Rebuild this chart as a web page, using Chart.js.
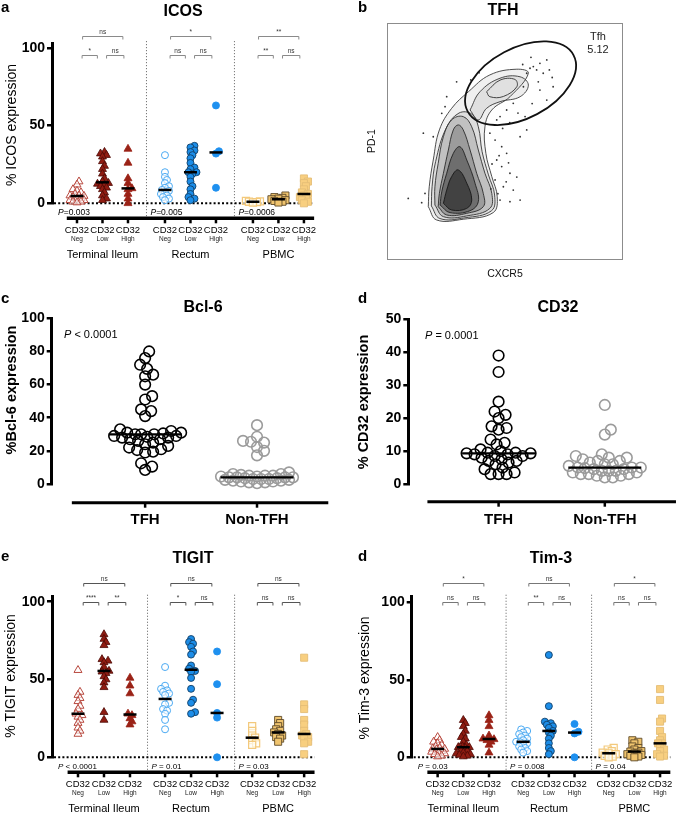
<!DOCTYPE html>
<html><head><meta charset="utf-8">
<script src="https://cdn.jsdelivr.net/npm/chart.js@4/dist/chart.umd.min.js"></script>
<style>
html,body{margin:0;padding:0;background:#fff;}
#wrap{position:relative;width:685px;height:813px;overflow:hidden;background:#fff;}
canvas{position:absolute;display:block;}
</style></head>
<body><div id="wrap">
<canvas id="ca" width="340" height="270" style="left:0;top:0"></canvas>
<canvas id="cb" width="345" height="290" style="left:340px;top:0"></canvas>
<canvas id="cc" width="340" height="240" style="left:0;top:290px"></canvas>
<canvas id="cd" width="345" height="240" style="left:340px;top:290px"></canvas>
<canvas id="ce" width="340" height="283" style="left:0;top:530px"></canvas>
<canvas id="cf" width="345" height="283" style="left:340px;top:530px"></canvas>
</div>
<script>
const FONT = "'Liberation Sans', Arial, Helvetica, sans-serif";
Chart.defaults.font.family = FONT;
Chart.defaults.animation = false;
Chart.defaults.events = [];
Chart.defaults.plugins.legend.display = false;
Chart.defaults.plugins.tooltip.enabled = false;

// ================= DATA =================
const tissueGroups = ['Terminal Ileum', 'Rectum', 'PBMC'];
const cd32Levels = ['Neg', 'Low', 'High'];
const pctTicks = [0, 50, 100];

// ICOS
const icosTINeg = [14, 12, 9, 8, 7, 6, 5, 5, 4.7, 4, 3, 3, 2, 2, 1, 1, 0.5];
const icosTILow = [33, 32, 31, 30, 27, 24, 22, 19, 16, 14, 13, 12.5, 12, 11, 10, 9, 7, 5, 3, 2];
const icosTIHigh = [35, 26, 16, 13, 9.6, 9, 6, 3, 0];
const icosRecNeg = [31, 20, 17, 15, 13, 11, 10, 8.6, 8, 7, 6, 5, 4, 3, 2];
const icosRecLow = [37, 36, 34, 33, 31, 29, 26, 23, 22, 20, 20, 19, 17, 14, 11, 9, 6, 4, 3, 2];
const icosRecHigh = [63, 33.5, 32, 10];
const icosPbmcNeg = [1.5, 1.2, 1, 0.8, 0.5];
const icosPbmcLow = [5, 4, 3.5, 3, 2.6, 2, 1.5, 1, 0.5];
const icosPbmcHigh = [16, 14, 13, 11, 9, 7, 6, 5, 4, 3, 2, 1, 0];
const icosSig = [['ns', '*', 'ns'], ['*', 'ns', 'ns'], ['**', '**', 'ns']];
const icosP = ['P=0.003', 'P=0.005', 'P=0.0006'];

// TIGIT
const tigitTINeg = [56, 42, 40, 38, 36, 33, 31, 28, 27, 26, 24, 22, 19, 17, 15];
const tigitTILow = [79, 76, 74, 72, 63, 62, 61, 58, 55.5, 55, 54, 52, 50, 48, 45, 29, 24];
const tigitTIHigh = [51, 46, 41, 28, 27, 25, 23, 21];
const tigitRecNeg = [58, 46, 44, 43, 42, 41, 40, 35, 34, 31, 30, 28, 24, 18];
const tigitRecLow = [76, 74, 73, 71, 68, 66, 59, 57, 55.5, 55, 51, 44, 37, 35, 29, 28];
const tigitRecHigh = [68, 47, 28.5, 25.5, 0];
const tigitPbmcNeg = [20, 17, 14, 12.6, 11, 9, 8];
const tigitPbmcLow = [24, 22, 20, 18, 17, 16, 15, 14, 13, 12, 10];
const tigitPbmcHigh = [64, 34, 31, 24, 21, 17, 15, 14, 13, 12, 10, 9, 2];
const tigitSig = [['ns', '****', '**'], ['ns', '*', 'ns'], ['ns', 'ns', 'ns']];
const tigitP = ['P < 0.0001', 'P = 0.01', 'P = 0.03'];

// Tim-3
const tim3TINeg = [13, 11, 10, 9, 8, 7, 6, 5.5, 5.4, 5, 4, 3.5, 3, 2.5, 2, 1, 0.5];
const tim3TILow = [24, 22, 20, 17, 15, 13, 12, 10, 8, 7, 6.5, 6.5, 6, 5, 4, 3, 2.5, 2, 1.5, 1, 0.5];
const tim3TIHigh = [27, 24, 20, 14, 12, 11.6, 11, 10, 8, 3];
const tim3RecNeg = [18, 17, 16, 15, 14, 13, 12, 11, 10, 9.7, 9, 8, 7, 6, 5, 4, 3];
const tim3RecLow = [66, 33, 23, 22, 21, 20, 19, 17, 16, 14, 12, 9, 6, 4, 2];
const tim3RecHigh = [21.5, 16.5, 15.4, 0];
const tim3PbmcNeg = [6, 5, 4, 3, 2.6, 2, 1, 0.5, 0];
const tim3PbmcLow = [11, 10, 9, 7, 6, 5, 4, 3.7, 3, 2.5, 2, 1.5, 1, 0.5, 0];
const tim3PbmcHigh = [44, 37, 25, 23, 17, 13, 11, 9, 9, 7, 5, 4, 2, 1, 0.5];
const tim3Sig = [['*', 'ns', 'ns'], ['ns', '**', 'ns'], ['*', 'ns', 'ns']];
const tim3P = ['P = 0.03', 'P = 0.008', 'P = 0.04'];

// Bcl-6 and CD32 (TFH vs Non-TFH)
const tfhCategories = ['TFH', 'Non-TFH'];
const bcl6TFH = [80, 76, 72, 69.5, 66, 65, 60, 53, 51, 45, 44, 41, 33, 32, 31, 31, 30.5, 30, 30, 30, 29, 29, 28.5, 28, 28, 27, 27, 26, 25, 24, 23, 22, 21, 20.5, 19.5, 19, 12.5, 10.5, 8.5];
const bcl6NonTFH = [35.5, 28.5, 26, 25.5, 25, 22.3, 20, 17.3, 7, 6, 6, 5.5, 5, 5, 5, 4.5, 4.5, 4, 4, 4, 4, 3.5, 3.5, 3, 3, 3, 2.5, 2.5, 2, 2, 1.5, 1.5, 1, 1, 0.5];
const bcl6Ticks = [0, 20, 40, 60, 80, 100];
const cd32TFH = [39, 34, 25, 22, 21, 20, 17.5, 17, 16.5, 13.5, 12.5, 12, 10.5, 10, 9.5, 9.5, 9.3, 9.3, 9, 9, 8.5, 8.5, 8, 7.5, 7, 7, 6.5, 6, 5, 4.5, 3.5, 3, 3, 3];
const cd32NonTFH = [24, 16.5, 15, 9, 8.5, 8, 8, 7.5, 7, 7, 6.5, 6, 6, 5.5, 5, 5, 5, 4.8, 4.5, 4.5, 4, 4, 4, 3.5, 3.5, 3, 3, 3, 2.5, 2.5, 2, 2];
const cd32Ticks = [0, 10, 20, 30, 40, 50];

// TFH flow plot (CXCR5 vs PD-1, 0-100 display units)
const tfhContourOuter = [[17.5,22.5],[21.0,16.9],[32.3,17.2],[45.0,20.0],[46.7,26.7],[44.4,35.2],[41.9,45.0],[41.5,56.2],[44.4,63.3],[52.1,68.9],[59.9,78.8],[55.0,80.5],[43.6,78.1],[34.5,71.0],[27.4,64.0],[22.2,54.9],[19.6,42.2],[17.9,30.9]];
const tfhContourMid = [[18.8,22.8],[22.4,17.5],[33.0,17.8],[44.3,20.8],[45.6,27.4],[43.0,35.9],[40.3,45.7],[38.7,56.2],[36.0,61.5],[30.5,62.0],[25.0,55.5],[20.6,41.5],[19.1,30.9]];
const tfhContourBody = [[20.3,23.2],[23.9,18.3],[33.8,18.6],[43.6,21.8],[44.4,28.1],[41.5,36.6],[38.7,46.4],[35.9,56.2],[32.3,60.5],[27.4,59.1],[23.9,52.0],[21.7,40.8],[20.3,30.9]];
const tfhContourInner = [[21.7,22.5],[25.3,19.0],[33.8,19.7],[40.8,22.5],[40.8,28.1],[38.0,36.6],[35.2,46.4],[32.3,54.9],[30.2,57.0],[28.1,54.9],[26.0,46.4],[23.9,36.6],[22.2,28.1]];
const tfhContourDense = [[22.5,23.2],[26.7,20.0],[35.2,20.8],[38.7,24.6],[37.3,32.4],[33.8,42.2],[30.9,47.8],[28.1,45.0],[25.3,36.6],[23.2,28.8]];
const tfhContourCore = [[23.9,23.9],[27.4,21.1],[33.8,21.8],[35.9,25.3],[33.8,32.4],[30.2,38.0],[27.4,35.2],[25.3,29.5]];
const tfhContourLobe = [[35.2,63.3],[39.4,71.0],[47.9,76.7],[56.4,77.3],[59.9,73.8],[56.4,68.9],[47.9,66.8],[42.2,64.0],[38.7,59.1]];
const tfhContourLobeInner = [[42.2,71.0],[47.9,75.9],[54.2,76.2],[55.0,73.1],[49.3,69.0],[43.6,68.9]];
const tfhEvents = [[62.0,81.6],[63.4,80.2],[60.6,80.9],[64.8,83.0],[66.2,78.8],[67.7,84.4],[59.2,78.8],[64.1,75.2],[57.8,73.1],[53.5,66.1],[50.7,63.3],[47.9,60.5],[46.5,59.1],[43.6,53.5],[45.8,50.6],[48.6,47.8],[50.7,45.0],[46.5,42.2],[48.6,39.4],[52.1,36.6],[45.8,33.8],[49.3,30.9],[53.5,29.5],[47.9,25.3],[52.1,24.6],[56.4,25.3],[56.4,52.0],[59.2,54.9],[29.5,75.2],[25.3,68.9],[24.6,64.7],[23.2,61.9],[15.4,53.5],[19.6,52.0],[9.0,26.0],[14.7,24.2],[16.1,28.1],[64.8,71.7],[67.7,67.5],[70.4,73.1],[44.0,30.0],[47.0,28.0],[50.5,33.0],[44.5,40.5],[47.5,44.0],[51.5,41.0],[55.0,35.0],[49.0,55.5],[52.0,58.0],[55.5,62.0],[58.5,60.5],[61.5,66.0],[39.0,79.0],[35.5,76.0],[68.8,80.2],[61.0,85.5],[57.5,82.5],[70.0,77.0]];
const tfhGate = {cx: 56.6, cy: 74.6, rx: 25.4, ry: 14.8, angleDeg: 28};
const tfhGateLabel = ['Tfh', '5.12'];

// ================= HELPERS =================
function medianOf(a){const s=[...a].sort((x,y)=>x-y);const n=s.length;return n%2?s[(n-1)/2]:(s[n/2-1]+s[n/2])/2;}
function txt(ctx,t,x,y,font,align,color,rot){
  ctx.save();ctx.translate(x,y);if(rot)ctx.rotate(rot);
  ctx.font=font;ctx.fillStyle=color||'#000';ctx.textAlign=align||'center';ctx.textBaseline='middle';
  ctx.fillText(t,0,0);ctx.restore();
}
function drawP(ctx,label,x,y,size){
  ctx.save();ctx.textBaseline='middle';ctx.textAlign='left';ctx.fillStyle='#000';
  ctx.font=`italic ${size}px ${FONT}`;ctx.fillText('P',x,y);const w=ctx.measureText('P').width;
  ctx.font=`${size}px ${FONT}`;ctx.fillText(label.slice(1),x+w,y);ctx.restore();
}
function swarmLayout(els,minD,maxOff){
  const order=els.map((e,i)=>i).sort((a,b)=>els[b].y-els[a].y);
  const placed=[];
  for(const i of order){
    const e=els[i];const cx=e.x;let chosen=null,bestOff=0,bestD=-1;
    for(let k=0;k<=2*maxOff;k++){
      const off=k===0?0:(k%2?Math.ceil(k/2):-Math.ceil(k/2));
      let dmin=Infinity;
      for(const p of placed){const d=Math.hypot(cx+off-p.x,e.y-p.y);if(d<dmin)dmin=d;}
      if(dmin>=minD){chosen=off;break;}
      if(dmin>bestD){bestD=dmin;bestOff=off;}
    }
    if(chosen===null)chosen=bestOff;
    e.x=cx+chosen;placed.push({x:e.x,y:e.y});
  }
}
function yAxisCfg(max,ticks,leftW,fontSize){
  return {type:'linear',min:0,max:max,
    afterBuildTicks:s=>{s.ticks=ticks.map(v=>({value:v}));},
    afterFit:s=>{s.width=leftW;},
    ticks:{font:{size:fontSize,weight:'bold',family:FONT},color:'#000',padding:2},
    grid:{drawOnChartArea:false,drawTicks:true,tickLength:5,color:'#000',lineWidth:2.5},
    border:{display:true,width:3,color:'#000'}};
}

// marker styles for the 9 columns (tissue x CD32 level)
const colStyles=[
 {ps:'triangle',r:4.6,bg:'rgba(255,255,255,0.6)',bd:'#b8493f',bw:1},
 {ps:'triangle',r:4.6,bg:'#8f1c12',bd:'#4d0a05',bw:0.8},
 {ps:'triangle',r:4.6,bg:'#9a2216',bd:'#9a2216',bw:0.8},
 {ps:'circle',r:3.5,bg:'rgba(255,255,255,0.6)',bd:'#4aa9f2',bw:1},
 {ps:'circle',r:3.5,bg:'#1c8de8',bd:'#123f66',bw:0.9},
 {ps:'circle',r:3.5,bg:'#1e90ef',bd:'#1e90ef',bw:0.9},
 {ps:'rect',r:5,bg:'rgba(255,253,245,0.7)',bd:'#f3c97c',bw:1.2},
 {ps:'rect',r:5,bg:'#f0c46e',bd:'#5d4a28',bw:0.9},
 {ps:'rect',r:5,bg:'#f8cf80',bd:'#e4bd76',bw:0.9}
];

// ================= GROUPED PANELS (a, e, Tim-3) =================
function groupChart(P){
  const datasets=[];const pos=[];
  P.columns.forEach((grp,g)=>grp.forEach((vals,i)=>{
    const x=g*(3+P.gap)+i;pos.push(x);const st=colStyles[g*3+i];
    datasets.push({type:'scatter',data:vals.map(v=>({x:x,y:v})),pointStyle:st.ps,pointRadius:st.r,
      backgroundColor:st.bg,borderColor:st.bd,borderWidth:st.bw,clip:false});
  }));
  const plug={id:'grp'+P.canvas,
    afterDatasetsUpdate(chart){chart.data.datasets.forEach((d,i)=>swarmLayout(chart.getDatasetMeta(i).data,P.minD,P.maxOff));},
    beforeDatasetsDraw(chart){
      const ctx=chart.ctx,xs=chart.scales.x,ys=chart.scales.y,a=chart.chartArea;
      const y0=ys.getPixelForValue(0),axisY=y0+15;
      const xFirst=xs.getPixelForValue(pos[0]-0.4),xLast=xs.getPixelForValue(pos[8]+0.4);
      ctx.save();
      ctx.strokeStyle='#777';ctx.lineWidth=1;ctx.setLineDash([1.2,1.8]);
      const seps=[];
      for(let g=0;g<2;g++){const sx=xs.getPixelForValue((pos[g*3+2]+pos[g*3+3])/2);seps.push(sx);
        ctx.beginPath();ctx.moveTo(sx,a.top-2);ctx.lineTo(sx,axisY);ctx.stroke();}
      ctx.strokeStyle='#000';ctx.lineWidth=2;ctx.setLineDash([2,2.2]);
      ctx.beginPath();ctx.moveTo(a.left+2,y0);ctx.lineTo(xLast,y0);ctx.stroke();
      ctx.setLineDash([]);
      ctx.lineWidth=3.5;ctx.beginPath();ctx.moveTo(xFirst,axisY);ctx.lineTo(xLast,axisY);ctx.stroke();
      ctx.lineWidth=2.5;
      pos.forEach((p,k)=>{const px=xs.getPixelForValue(p);
        ctx.beginPath();ctx.moveTo(px,axisY);ctx.lineTo(px,axisY+5);ctx.stroke();
        txt(ctx,'CD32',px,axisY+12,`9.5px ${FONT}`);
        txt(ctx,cd32Levels[k%3],px,axisY+21,`6.5px ${FONT}`,'center','#222');
      });
      tissueGroups.forEach((gname,g)=>txt(ctx,gname,xs.getPixelForValue(pos[g*3+1]),axisY+37,`11px ${FONT}`));
      P.pvals.forEach((pl,g)=>{const px=g===0?a.left+6:seps[g-1]+4;drawP(ctx,pl,px,y0+9,P.pSize);});
      ctx.strokeStyle=P.bracketColor;ctx.lineWidth=1;
      const br=(x1,x2,yv,lab)=>{const X1=xs.getPixelForValue(x1),X2=xs.getPixelForValue(x2),Y=Math.round(ys.getPixelForValue(yv))+0.5;
        ctx.beginPath();ctx.moveTo(X1,Y+3);ctx.lineTo(X1,Y);ctx.lineTo(X2,Y);ctx.lineTo(X2,Y+3);ctx.stroke();
        txt(ctx,lab,(X1+X2)/2,Y-4,`6.5px ${FONT}`,'center','#333');};
      P.sig.forEach((s,g)=>{const n=pos[g*3],l=pos[g*3+1],h=pos[g*3+2];
        br(n+0.22,h-0.2,P.bracketY[0],s[0]);br(n+0.2,l-0.2,P.bracketY[1],s[1]);br(l+0.16,h-0.16,P.bracketY[1],s[2]);});
      txt(ctx,P.title,P.titleXY[0],P.titleXY[1],`bold 16px ${FONT}`);
      txt(ctx,P.letter,P.letterXY[0],P.letterXY[1],`bold 15px ${FONT}`,'left');
      txt(ctx,P.yTitle,P.yTitleXY[0],P.yTitleXY[1],`14px ${FONT}`,'center','#000',-Math.PI/2);
      ctx.restore();
    },
    afterDatasetsDraw(chart){
      const ctx=chart.ctx,xs=chart.scales.x,ys=chart.scales.y;
      ctx.save();ctx.strokeStyle='#000';ctx.lineWidth=2.5;
      P.columns.flat().forEach((vals,k)=>{const px=xs.getPixelForValue(pos[k]),py=ys.getPixelForValue(medianOf(vals));
        ctx.beginPath();ctx.moveTo(px-6.5,py);ctx.lineTo(px+6.5,py);ctx.stroke();});
      ctx.restore();
    }};
  return new Chart(document.getElementById(P.canvas),{type:'scatter',data:{datasets},
    options:{responsive:false,layout:{padding:{top:P.area.top,bottom:P.H-P.area.bottom,left:0,right:P.W-P.area.right}},
      scales:{x:{type:'linear',display:false,min:P.xMin,max:P.xMax},y:yAxisCfg(P.yMax,pctTicks,P.area.left,14)}},
    plugins:[plug]});
}

groupChart({canvas:'ca',W:340,H:270,area:{left:52,top:43,right:320,bottom:203.3},yMax:103.2,gap:0.45,xMin:-0.98,xMax:9.53,
  columns:[[icosTINeg,icosTILow,icosTIHigh],[icosRecNeg,icosRecLow,icosRecHigh],[icosPbmcNeg,icosPbmcLow,icosPbmcHigh]],
  sig:icosSig,pvals:icosP,bracketY:[107.7,95.5],bracketColor:'#8a8a8a',pSize:8.5,minD:3.6,maxOff:7,
  title:'ICOS',titleXY:[183,12],letter:'a',letterXY:[1,8],yTitle:'% ICOS expression',yTitleXY:[12,125]});

groupChart({canvas:'ce',W:340,H:283,area:{left:52,top:66.7,right:320,bottom:227.3},yMax:103.2,gap:0.35,xMin:-1.0,xMax:9.31,
  columns:[[tigitTINeg,tigitTILow,tigitTIHigh],[tigitRecNeg,tigitRecLow,tigitRecHigh],[tigitPbmcNeg,tigitPbmcLow,tigitPbmcHigh]],
  sig:tigitSig,pvals:tigitP,bracketY:[112,99.8],bracketColor:'#555',pSize:8,minD:3.6,maxOff:7,
  title:'TIGIT',titleXY:[193,29],letter:'e',letterXY:[1,27],yTitle:'% TIGIT expression',yTitleXY:[11,146]});

groupChart({canvas:'cf',W:345,H:283,area:{left:71.7,top:66.7,right:340,bottom:227.3},yMax:103.6,gap:0.33,xMin:-1.01,xMax:9.39,
  columns:[[tim3TINeg,tim3TILow,tim3TIHigh],[tim3RecNeg,tim3RecLow,tim3RecHigh],[tim3PbmcNeg,tim3PbmcLow,tim3PbmcHigh]],
  sig:tim3Sig,pvals:tim3P,bracketY:[112.5,100.4],bracketColor:'#777',pSize:8,minD:3.6,maxOff:7,
  title:'Tim-3',titleXY:[211,29],letter:'d',letterXY:[18,27],yTitle:'% Tim-3 expression',yTitleXY:[25,148]});

// ================= TFH vs Non-TFH PANELS (c, d) =================
function pairChart(P){
  const colors=['#000','#9b9b9b'];
  const datasets=P.columns.map((vals,i)=>({data:vals.map(v=>({x:i,y:v})),pointStyle:'circle',pointRadius:5.3,
    backgroundColor:'rgba(255,255,255,0)',borderColor:colors[i],borderWidth:1.6,clip:false}));
  const plug={id:'pair'+P.canvas,
    afterDatasetsUpdate(chart){chart.data.datasets.forEach((d,i)=>swarmLayout(chart.getDatasetMeta(i).data,P.minD,P.maxOff));},
    beforeDatasetsDraw(chart){
      const ctx=chart.ctx,xs=chart.scales.x;
      ctx.save();ctx.strokeStyle='#000';ctx.lineWidth=3;
      ctx.beginPath();ctx.moveTo(xs.getPixelForValue(P.lineFrom),P.axisY);ctx.lineTo(xs.getPixelForValue(P.lineTo),P.axisY);ctx.stroke();
      ctx.lineWidth=2.5;
      tfhCategories.forEach((c,i)=>{const px=xs.getPixelForValue(i);
        ctx.beginPath();ctx.moveTo(px,P.axisY);ctx.lineTo(px,P.axisY+5);ctx.stroke();
        txt(ctx,c,px,P.labelY,`bold 15px ${FONT}`);});
      drawP(ctx,P.pText,P.pXY[0],P.pXY[1],11);
      txt(ctx,P.title,P.titleXY[0],P.titleXY[1],`bold 16px ${FONT}`);
      txt(ctx,P.letter,P.letterXY[0],P.letterXY[1],`bold 15px ${FONT}`,'left');
      txt(ctx,P.yTitle,P.yTitleXY[0],P.yTitleXY[1],`bold 14.5px ${FONT}`,'center','#000',-Math.PI/2);
      ctx.restore();
    },
    afterDatasetsDraw(chart){
      const ctx=chart.ctx,xs=chart.scales.x,ys=chart.scales.y;
      ctx.save();ctx.strokeStyle='#000';ctx.lineWidth=2.2;
      P.columns.forEach((vals,i)=>{const px=xs.getPixelForValue(i),py=ys.getPixelForValue(medianOf(vals));
        ctx.beginPath();ctx.moveTo(px-36.5,py);ctx.lineTo(px+36.5,py);ctx.stroke();});
      ctx.restore();
    }};
  return new Chart(document.getElementById(P.canvas),{type:'scatter',data:{datasets},
    options:{responsive:false,layout:{padding:{top:P.area.top,bottom:P.H-P.area.bottom,left:0,right:P.W-P.area.right}},
      scales:{x:{type:'linear',display:false,min:P.xMin,max:P.xMax},y:yAxisCfg(P.yMax,P.ticks,P.area.left,14)}},
    plugins:[plug]});
}

pairChart({canvas:'cc',W:340,H:240,area:{left:51.7,top:28.3,right:335,bottom:194},yMax:100,ticks:bcl6Ticks,
  xMin:-0.835,xMax:1.68,lineFrom:-0.655,lineTo:1.637,axisY:212.7,labelY:230,columns:[bcl6TFH,bcl6NonTFH],
  minD:7.6,maxOff:36,pText:'P < 0.0001',pXY:[64,45],title:'Bcl-6',titleXY:[203,18],letter:'c',letterXY:[1,9],
  yTitle:'%Bcl-6 expression',yTitleXY:[12,100]});

pairChart({canvas:'cd',W:345,H:240,area:{left:68.3,top:29.3,right:345,bottom:194},yMax:50,ticks:cd32Ticks,
  xMin:-0.85,xMax:1.69,lineFrom:-0.67,lineTo:1.67,axisY:211.7,labelY:230,columns:[cd32TFH,cd32NonTFH],
  minD:7.6,maxOff:36,pText:'P = 0.0001',pXY:[85,45.7],title:'CD32',titleXY:[218,18],letter:'d',letterXY:[18,9],
  yTitle:'% CD32 expression',yTitleXY:[24,112]});

// ================= PANEL b : TFH flow contour =================
(function(){
  const toPts=arr=>{const p=arr.map(q=>({x:q[0],y:q[1]}));p.push({...p[0]});return p;};
  const contours=[
    [tfhContourOuter,'rgba(0,0,0,0.06)'],[tfhContourLobe,'rgba(0,0,0,0.07)'],[tfhContourLobeInner,'rgba(255,255,255,0.0)'],
    [tfhContourMid,'rgba(0,0,0,0.08)'],[tfhContourBody,'rgba(0,0,0,0.13)'],[tfhContourInner,'rgba(0,0,0,0.2)'],
    [tfhContourDense,'rgba(0,0,0,0.3)'],[tfhContourCore,'rgba(0,0,0,0.4)']];
  const datasets=contours.map(([c,f])=>({type:'line',data:toPts(c),borderColor:'#3a3a3a',borderWidth:0.9,pointRadius:0,
    tension:0.4,fill:'shape',backgroundColor:f}));
  datasets.push({type:'line',data:tfhEvents.map(q=>({x:q[0],y:q[1]})),showLine:false,pointRadius:0.9,
    pointBackgroundColor:'#333',pointBorderWidth:0});
  const W=345,H=290,A={left:47,top:23,right:283,bottom:260};
  const plug={id:'flowb',
    afterDatasetsDraw(chart){
      const ctx=chart.ctx,xs=chart.scales.x,ys=chart.scales.y,a=chart.chartArea;
      ctx.save();
      const cx=xs.getPixelForValue(tfhGate.cx),cy=ys.getPixelForValue(tfhGate.cy);
      const rx=xs.getPixelForValue(tfhGate.rx)-xs.getPixelForValue(0),ry=ys.getPixelForValue(0)-ys.getPixelForValue(tfhGate.ry);
      ctx.strokeStyle='#111';ctx.lineWidth=1.8;ctx.beginPath();ctx.ellipse(cx,cy,rx,ry,-tfhGate.angleDeg*Math.PI/180,0,Math.PI*2);ctx.stroke();
      ctx.strokeStyle='#8c8c8c';ctx.lineWidth=1;ctx.strokeRect(a.left+0.5,a.top+0.5,a.right-a.left-1,a.bottom-a.top-1);
      txt(ctx,tfhGateLabel[0],258,37,`11px ${FONT}`,'center','#222');
      txt(ctx,tfhGateLabel[1],258,50,`11px ${FONT}`,'center','#222');
      txt(ctx,'TFH',163,11,`bold 16px ${FONT}`);
      txt(ctx,'b',18,8,`bold 15px ${FONT}`,'left');
      txt(ctx,'PD-1',32,141,`10.5px ${FONT}`,'center','#111',-Math.PI/2);
      txt(ctx,'CXCR5',165,274,`10.5px ${FONT}`,'center','#111');
      ctx.restore();
    }};
  new Chart(document.getElementById('cb'),{type:'line',data:{datasets},
    options:{responsive:false,layout:{padding:{left:A.left,top:A.top,right:W-A.right,bottom:H-A.bottom}},
      scales:{x:{type:'linear',display:false,min:0,max:100},y:{type:'linear',display:false,min:0,max:100}}},
    plugins:[plug]});
})();
</script>
</body></html>
